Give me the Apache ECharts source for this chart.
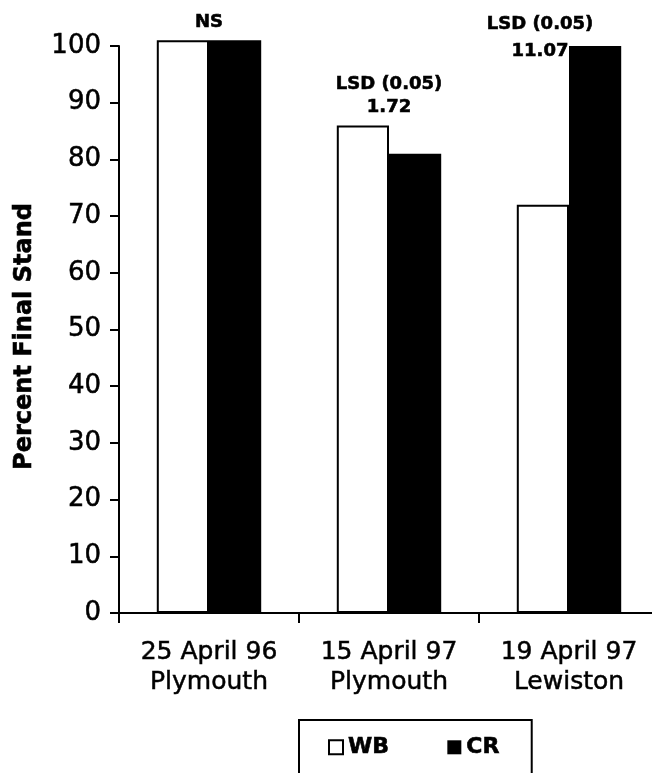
<!DOCTYPE html>
<html>
<head>
<meta charset="utf-8">
<script src="https://cdn.jsdelivr.net/npm/echarts@6/dist/echarts.min.js"></script>
<style>
  html, body { margin: 0; padding: 0; background: #fff; }
  #chart { width: 652px; height: 773px; }
</style>
</head>
<body>
<div id="chart"></div>
<script>
// data
const categories = ['25 April 96\nPlymouth', '15 April 97\nPlymouth', '19 April 97\nLewiston'];
const wbValues = [101, 86, 72];
const crValues = [101, 81, 100];
const yTicks = { min: 0, max: 100, step: 10 };

// significance notes above each group (category index, height in % units, text)
const noteCategory = [0, 1, 1, 2, 2];
const noteHeight = [104.2, 93.3, 89.1, 103.9, 99.1];
const noteText = ['NS', 'LSD (0.05)', '1.72', 'LSD (0.05)', '11.07'];

const font = 'DejaVu Sans';

// the scanned original has heavy strokes, thicken text a little
const heavy = width => ({ textBorderColor: '#000', textBorderWidth: width });

const chart = echarts.init(document.getElementById('chart'), null, { renderer: 'canvas' });

// notes over the last group sit left of the CR bar
const noteData = noteText.map((text, i) => ({
  value: [categories[noteCategory[i]], noteHeight[i]],
  label: { formatter: text, offset: noteCategory[i] === 2 ? [-29, 0] : [0, 0] },
}));

const barBase = {
  type: 'bar',
  barWidth: '29%',
  barGap: '0%',
  clip: false,
};

const option = {
  animation: false,
  backgroundColor: '#fff',
  textStyle: { fontFamily: font, color: '#000' },
  grid: {
    left: 119,
    top: 46,
    width: 540,
    height: 567,
    containLabel: false,
    outerBoundsMode: 'none',
  },
  legend: {
    left: 299,
    top: 720,
    orient: 'horizontal',
    padding: [16, 32, 40, 29],
    itemGap: 58,
    itemWidth: 14,
    itemHeight: 14,
    borderColor: '#000',
    borderWidth: 2,
    textStyle: {
      fontFamily: font,
      fontWeight: 'bold',
      fontSize: 22,
      color: '#000',
      ...heavy(0.6),
    },
    data: [
      { name: 'WB', icon: 'rect', itemStyle: { color: '#fff', borderColor: '#000', borderWidth: 2 } },
      { name: 'CR', icon: 'rect', itemStyle: { color: '#000', borderWidth: 0 } },
    ],
  },
  xAxis: {
    type: 'category',
    data: categories,
    boundaryGap: true,
    axisLine: { lineStyle: { color: '#000', width: 2 } },
    axisTick: { show: true, length: 10, lineStyle: { color: '#000', width: 2 } },
    axisLabel: {
      fontFamily: font,
      fontSize: 25,
      lineHeight: 30,
      color: '#000',
      margin: 24,
      interval: 0,
      ...heavy(0.5),
    },
    splitLine: { show: false },
  },
  yAxis: {
    type: 'value',
    min: yTicks.min,
    max: yTicks.max,
    interval: yTicks.step,
    name: 'Percent Final Stand',
    nameLocation: 'middle',
    nameRotate: 90,
    nameGap: 82,
    nameTextStyle: {
      fontFamily: font,
      fontWeight: 'bold',
      fontSize: 24,
      color: '#000',
      padding: [0, 14, 0, 0],
      ...heavy(0.6),
    },
    axisLine: { show: true, lineStyle: { color: '#000', width: 2 } },
    axisTick: { show: true, length: 9, lineStyle: { color: '#000', width: 2 } },
    axisLabel: { fontFamily: font, fontSize: 26, color: '#000', margin: 18, ...heavy(0.5) },
    splitLine: { show: false },
  },
  series: [
    {
      ...barBase,
      name: 'WB',
      data: wbValues,
      itemStyle: { color: '#fff', borderColor: '#000', borderWidth: 2 },
    },
    {
      ...barBase,
      name: 'CR',
      data: crValues,
      itemStyle: { color: '#000' },
    },
    {
      type: 'scatter',
      name: 'notes',
      data: noteData,
      symbolSize: 1,
      itemStyle: { color: 'rgba(0,0,0,0)', opacity: 1 },
      clip: false,
      silent: true,
      label: {
        show: true,
        position: 'inside',
        fontFamily: font,
        fontWeight: 'bold',
        fontSize: 18,
        color: '#000',
        ...heavy(0.6),
      },
      z: 5,
    },
  ],
};

chart.setOption(option);
</script>
</body>
</html>
